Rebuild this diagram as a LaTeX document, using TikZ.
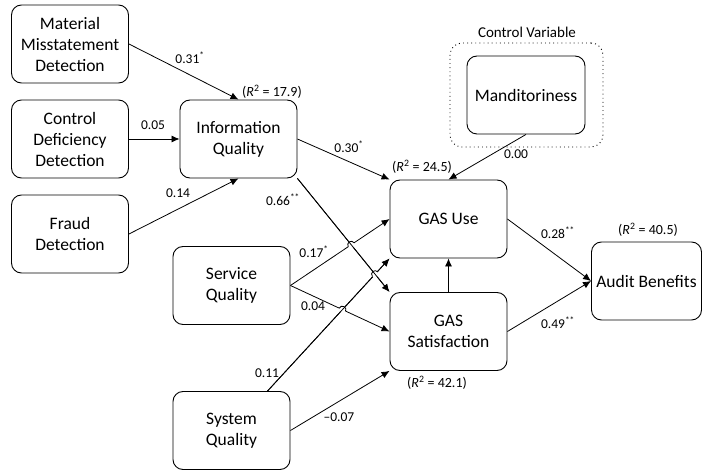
\documentclass[tikz,border=0pt]{standalone}
\usepackage{fontspec}
\setmainfont{Carlito}
\usepackage{tikz}
\usetikzlibrary{shapes,arrows,arrows.meta,calc,intersections}
\tikzstyle{line} = [draw, -{Latex[length=8pt,width=7pt]}, line width=0.8pt]
\tikzstyle{block} = [draw, rectangle, rounded corners=10pt, align=center, text centered, minimum width=117pt, minimum height=78pt, line width=0.9pt, font=\fontsize{17.5}{21}\selectfont]
\tikzstyle{coef} = [inner sep=1pt, font=\fontsize{13.5}{15}\selectfont]
\tikzstyle{rsq} = [inner sep=1pt, font=\fontsize{14}{16}\selectfont]
\tikzstyle{ctrl} = [draw, rounded corners=12pt, line width=0.9pt, dash pattern=on 0.9pt off 3.2pt]
% hop: crossing point, start and end of the line that jumps
\newcommand{\hop}[3]{%
  \draw[line width=0.8pt] let \p1=($(#3)-(#2)$), \n1={atan2(\y1,\x1)} in
    ($(#1)+(\n1+180:3.5pt)$) arc[start angle=\n1+180, end angle=\n1, radius=3.5pt];
}

\begin{document}
\begin{tikzpicture}[x=1pt, y=-1pt, node distance=95pt, auto]
        \useasboundingbox (0,0) rectangle (702,473);
        \node[block] (mat) at (70,44) {Material\\Misstatement\\Detection};
        \node[block, below of=mat] (cdd) {Control\\Deficiency\\Detection};
        \node[block, below of=cdd] (fraud) {Fraud\\Detection};
        \node[block] (info) at (238.5,139) {Information\\Quality};
        \node[block] (serv) at (231.5,285.5) {Service\\Quality};
        \node[block] (sys) at (231.5,430.5) {System\\Quality};
        \node[block] (use) at (448.5,219) {GAS Use};
        \node[block] (sat) at (448.5,331.5) {GAS\\Satisfaction};
        \node[block, minimum width=118pt] (mand) at (526,95) {Manditoriness};
        \node[block, minimum width=110pt, inner sep=2pt] (audit) at (646.5,281) {Audit Benefits};
        \node[ctrl, minimum width=153pt, minimum height=104pt] (ctrlbox) at (526.5,95) {};
        \node[inner sep=1pt, font=\fontsize{15}{17}\selectfont] (ctrltxt) at (527,32) {Control Variable};
        % paths
        \path[line] (mat.east) -- (info.north);
        \path[line] (cdd) -- (info);
        \path[line] (fraud.east) -- (info.south);
        \path[line] (info.east) -- (use.north west);
        \path[line, name path=is] (info.south east) -- (sat.north west);
        \path[line] (mand.south) -- (use.north);
        \path[line] (sat) -- (use);
        \path[line] (use.east) -- (audit.west);
        \path[line] (sat.east) -- (audit.west);
        \path[line, name path=su] (serv.east) -- (use.west);
        \path[line, name path=ss] (serv.east) -- (sat.west);
        \path[line, name path=yu] ([xshift=36pt]sys.north) -- (use.south west);
        \path[line] (sys.east) -- (sat.south west);
        % hops
        \path[name intersections={of=su and is, by=x1}];
        \path[name intersections={of=yu and is, by=x2}];
        \path[name intersections={of=ss and yu, by=x3}];
        \fill[white] (x3) circle (3.5pt);
        \draw[line width=0.8pt] ([xshift=36pt]sys.north) -- ($(use.south west)!8pt!([xshift=36pt]sys.north)$);
        \fill[white] (x1) circle (3.5pt);
        \fill[white] (x2) circle (3.5pt);
        \draw[line width=0.8pt] (info.south east) -- ($(sat.north west)!8pt!(info.south east)$);
        \hop{x1}{serv.east}{use.west}
        \hop{x2}{sys.north}{use.south west}
        \hop{x3}{serv.east}{sat.west}
        % coefficients
        \node[coef] (c1) at (190,58) {0.31\textsuperscript{*}};
        \node[coef] (c2) at (153,125) {0.05};
        \node[coef] (c3) at (178,193) {0.14};
        \node[coef] (c4) at (349,147) {0.30\textsuperscript{*}};
        \node[coef] (c5) at (283,200) {0.66\textsuperscript{**}};
        \node[coef] (c6) at (314,252) {0.17\textsuperscript{*}};
        \node[coef] (c7) at (313,306) {0.04};
        \node[coef] (c8) at (267,373) {0.11};
        \node[coef] (c9) at (339,417) {--0.07};
        \node[coef] (c10) at (516,154) {0.00};
        \node[coef] (c11) at (558,233) {0.28\textsuperscript{**}};
        \node[coef] (c12) at (558,323) {0.49\textsuperscript{**}};
        \node[rsq] (r1) at (272,92) {(\textit{R}\textsuperscript{2} = 17.9)};
        \node[rsq] (r2) at (422,167) {(\textit{R}\textsuperscript{2} = 24.5)};
        \node[rsq] (r3) at (437,383) {(\textit{R}\textsuperscript{2} = 42.1)};
        \node[rsq] (r4) at (648,230) {(\textit{R}\textsuperscript{2} = 40.5)};
    \end{tikzpicture}
\end{document}
